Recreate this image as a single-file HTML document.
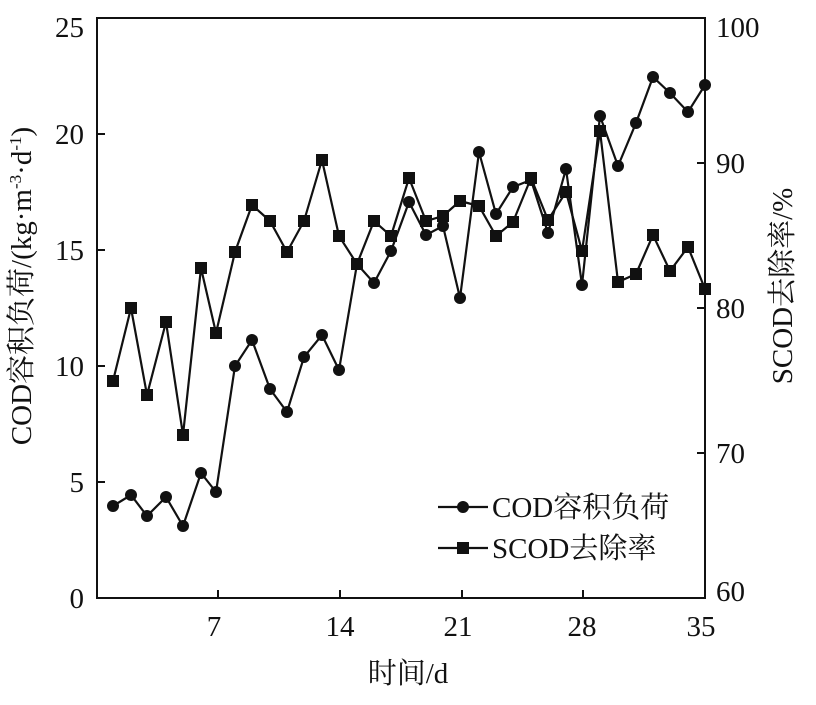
<!DOCTYPE html>
<html><head><meta charset="utf-8"><style>body{margin:0;background:#fff}</style></head><body>
<svg width="816" height="700" xmlns="http://www.w3.org/2000/svg" font-family="'Liberation Serif','Noto Serif CJK SC',serif" fill="#111">
<g stroke="#111" stroke-width="2" fill="none">
<rect x="97" y="18" width="608" height="580"/>
<path d="M97 482h8M97 366h8M97 250h8M97 134h8"/>
<path d="M705 163h-8M705 308h-8M705 453h-8"/>
<path d="M218 598v-8M340 598v-8M462 598v-8M583 598v-8"/>
</g>
<g font-size="29" text-anchor="end">
<text x="84" y="608">0</text><text x="84" y="492">5</text><text x="84" y="376">10</text><text x="84" y="260">15</text><text x="84" y="144">20</text><text x="84" y="37">25</text>
</g>
<g font-size="29" text-anchor="start">
<text x="716" y="37">100</text><text x="716" y="173">90</text><text x="716" y="318">80</text><text x="716" y="463">70</text><text x="716" y="601">60</text>
</g>
<g font-size="29" text-anchor="middle">
<text x="214" y="636">7</text><text x="340" y="636">14</text><text x="458" y="636">21</text><text x="582" y="636">28</text><text x="701" y="636">35</text>
<text x="408" y="683">时间/d</text>
</g>
<text font-size="29" text-anchor="middle" transform="translate(31,286) rotate(-90)">COD容积负荷/(kg·m<tspan font-size="17" dy="-10">-3</tspan><tspan dy="10">·d</tspan><tspan font-size="17" dy="-10">-1</tspan><tspan dy="10">)</tspan></text>
<text font-size="29" text-anchor="middle" transform="translate(792,286) rotate(-90)">SCOD去除率/%</text>
<g stroke="#111" stroke-width="2.2" fill="none">
<polyline points="113,506 131,495 147,516 166,497 183,526 201,473 216,492 235,366 252,340 270,389 287,412 304,357 322,335 339,370 357,264 374,283 391,251 409,202 426,235 443,226 460,298 479,152 496,214 513,187 531,180 548,233 566,169 582,285 600,116 618,166 636,123 653,77 670,93 688,112 705,85"/>
<polyline points="113,381 131,308 147,395 166,322 183,435 201,268 216,333 235,252 252,205 270,221 287,252 304,221 322,160 339,236 357,264 374,221 391,236 409,178 426,221 443,216 460,201 479,206 496,236 513,222 531,178 548,220 566,192 582,251 600,131 618,282 636,274 653,235 670,271 688,247 705,289"/>
<path d="M438 507h50M438 548h50"/>
</g>
<g>
<circle cx="113" cy="506" r="6"/><circle cx="131" cy="495" r="6"/><circle cx="147" cy="516" r="6"/><circle cx="166" cy="497" r="6"/><circle cx="183" cy="526" r="6"/><circle cx="201" cy="473" r="6"/><circle cx="216" cy="492" r="6"/><circle cx="235" cy="366" r="6"/><circle cx="252" cy="340" r="6"/><circle cx="270" cy="389" r="6"/><circle cx="287" cy="412" r="6"/><circle cx="304" cy="357" r="6"/><circle cx="322" cy="335" r="6"/><circle cx="339" cy="370" r="6"/><circle cx="357" cy="264" r="6"/><circle cx="374" cy="283" r="6"/><circle cx="391" cy="251" r="6"/><circle cx="409" cy="202" r="6"/><circle cx="426" cy="235" r="6"/><circle cx="443" cy="226" r="6"/><circle cx="460" cy="298" r="6"/><circle cx="479" cy="152" r="6"/><circle cx="496" cy="214" r="6"/><circle cx="513" cy="187" r="6"/><circle cx="531" cy="180" r="6"/><circle cx="548" cy="233" r="6"/><circle cx="566" cy="169" r="6"/><circle cx="582" cy="285" r="6"/><circle cx="600" cy="116" r="6"/><circle cx="618" cy="166" r="6"/><circle cx="636" cy="123" r="6"/><circle cx="653" cy="77" r="6"/><circle cx="670" cy="93" r="6"/><circle cx="688" cy="112" r="6"/><circle cx="705" cy="85" r="6"/>
<circle cx="463" cy="507" r="6"/>
</g>
<g transform="translate(-6,-6)">
<rect x="113" y="381" width="12" height="12"/><rect x="131" y="308" width="12" height="12"/><rect x="147" y="395" width="12" height="12"/><rect x="166" y="322" width="12" height="12"/><rect x="183" y="435" width="12" height="12"/><rect x="201" y="268" width="12" height="12"/><rect x="216" y="333" width="12" height="12"/><rect x="235" y="252" width="12" height="12"/><rect x="252" y="205" width="12" height="12"/><rect x="270" y="221" width="12" height="12"/><rect x="287" y="252" width="12" height="12"/><rect x="304" y="221" width="12" height="12"/><rect x="322" y="160" width="12" height="12"/><rect x="339" y="236" width="12" height="12"/><rect x="357" y="264" width="12" height="12"/><rect x="374" y="221" width="12" height="12"/><rect x="391" y="236" width="12" height="12"/><rect x="409" y="178" width="12" height="12"/><rect x="426" y="221" width="12" height="12"/><rect x="443" y="216" width="12" height="12"/><rect x="460" y="201" width="12" height="12"/><rect x="479" y="206" width="12" height="12"/><rect x="496" y="236" width="12" height="12"/><rect x="513" y="222" width="12" height="12"/><rect x="531" y="178" width="12" height="12"/><rect x="548" y="220" width="12" height="12"/><rect x="566" y="192" width="12" height="12"/><rect x="582" y="251" width="12" height="12"/><rect x="600" y="131" width="12" height="12"/><rect x="618" y="282" width="12" height="12"/><rect x="636" y="274" width="12" height="12"/><rect x="653" y="235" width="12" height="12"/><rect x="670" y="271" width="12" height="12"/><rect x="688" y="247" width="12" height="12"/><rect x="705" y="289" width="12" height="12"/>
<rect x="463" y="548" width="12" height="12"/>
</g>
<g font-size="29">
<text x="492" y="517">COD容积负荷</text>
<text x="492" y="558">SCOD去除率</text>
</g>
</svg>
</body></html>
